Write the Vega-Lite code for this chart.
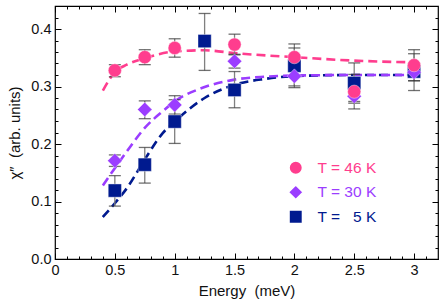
{
  "$schema": "https://vega.github.io/schema/vega-lite/v6.json",
  "width": 383,
  "height": 253,
  "autosize": {"type": "none"},
  "padding": {"left": 55, "top": 6, "right": 5, "bottom": 46},
  "config": {
    "font": "Liberation Sans",
    "view": {"stroke": "#000", "strokeWidth": 1.2},
    "axis": {"domain": false, "grid": false, "labelFont": "Liberation Sans", "titleFont": "Liberation Sans", "labelColor": "#111", "titleColor": "#111", "tickColor": "#000", "labelFontSize": 14.5, "titleFontSize": 15, "titleFontWeight": "normal"}
  },
  "datasets": {
    "pts": [
      {"T": "T = \u00a0\u00a05 K", "E": 0.5, "chi": 0.119, "lo": 0.092, "hi": 0.145},
      {"T": "T = \u00a0\u00a05 K", "E": 0.75, "chi": 0.164, "lo": 0.132, "hi": 0.194},
      {"T": "T = \u00a0\u00a05 K", "E": 1.0, "chi": 0.239, "lo": 0.201, "hi": 0.277},
      {"T": "T = \u00a0\u00a05 K", "E": 1.25, "chi": 0.379, "lo": 0.328, "hi": 0.427},
      {"T": "T = \u00a0\u00a05 K", "E": 1.5, "chi": 0.294, "lo": 0.263, "hi": 0.326},
      {"T": "T = \u00a0\u00a05 K", "E": 2.0, "chi": 0.336, "lo": 0.298, "hi": 0.374},
      {"T": "T = \u00a0\u00a05 K", "E": 2.5, "chi": 0.306, "lo": 0.271, "hi": 0.341},
      {"T": "T = \u00a0\u00a05 K", "E": 3.0, "chi": 0.326, "lo": 0.293, "hi": 0.357},
      {"T": "T = 30 K", "E": 0.5, "chi": 0.171, "lo": 0.161, "hi": 0.181},
      {"T": "T = 30 K", "E": 0.75, "chi": 0.26, "lo": 0.244, "hi": 0.275},
      {"T": "T = 30 K", "E": 1.0, "chi": 0.268, "lo": 0.252, "hi": 0.284},
      {"T": "T = 30 K", "E": 1.5, "chi": 0.344, "lo": 0.332, "hi": 0.356},
      {"T": "T = 30 K", "E": 2.0, "chi": 0.318, "lo": 0.301, "hi": 0.335},
      {"T": "T = 30 K", "E": 2.5, "chi": 0.283, "lo": 0.274, "hi": 0.292},
      {"T": "T = 30 K", "E": 3.0, "chi": 0.325, "lo": 0.31, "hi": 0.34},
      {"T": "T = 46 K", "E": 0.5, "chi": 0.328, "lo": 0.317, "hi": 0.338},
      {"T": "T = 46 K", "E": 0.75, "chi": 0.351, "lo": 0.338, "hi": 0.364},
      {"T": "T = 46 K", "E": 1.0, "chi": 0.367, "lo": 0.351, "hi": 0.383},
      {"T": "T = 46 K", "E": 1.5, "chi": 0.373, "lo": 0.355, "hi": 0.391},
      {"T": "T = 46 K", "E": 2.0, "chi": 0.351, "lo": 0.335, "hi": 0.367},
      {"T": "T = 46 K", "E": 2.5, "chi": 0.291, "lo": 0.261, "hi": 0.321},
      {"T": "T = 46 K", "E": 3.0, "chi": 0.337, "lo": 0.31, "hi": 0.364}
    ],
    "fits": [
      {"S": "5K", "E": 0.4, "chi": 0.073},
      {"S": "5K", "E": 0.5, "chi": 0.097},
      {"S": "5K", "E": 0.6, "chi": 0.123},
      {"S": "5K", "E": 0.75, "chi": 0.173},
      {"S": "5K", "E": 0.9, "chi": 0.219},
      {"S": "5K", "E": 1.0, "chi": 0.239},
      {"S": "5K", "E": 1.25, "chi": 0.28},
      {"S": "5K", "E": 1.5, "chi": 0.303},
      {"S": "5K", "E": 1.75, "chi": 0.313},
      {"S": "5K", "E": 2.0, "chi": 0.318},
      {"S": "5K", "E": 2.5, "chi": 0.32},
      {"S": "5K", "E": 3.0, "chi": 0.32},
      {"S": "30K", "E": 0.4, "chi": 0.128},
      {"S": "30K", "E": 0.5, "chi": 0.158},
      {"S": "30K", "E": 0.6, "chi": 0.187},
      {"S": "30K", "E": 0.75, "chi": 0.228},
      {"S": "30K", "E": 0.9, "chi": 0.257},
      {"S": "30K", "E": 1.0, "chi": 0.274},
      {"S": "30K", "E": 1.25, "chi": 0.299},
      {"S": "30K", "E": 1.5, "chi": 0.312},
      {"S": "30K", "E": 1.75, "chi": 0.317},
      {"S": "30K", "E": 2.0, "chi": 0.319},
      {"S": "30K", "E": 2.5, "chi": 0.32},
      {"S": "30K", "E": 3.0, "chi": 0.32},
      {"S": "46K", "E": 0.4, "chi": 0.293},
      {"S": "46K", "E": 0.5, "chi": 0.325},
      {"S": "46K", "E": 0.6, "chi": 0.338},
      {"S": "46K", "E": 0.75, "chi": 0.349},
      {"S": "46K", "E": 1.0, "chi": 0.361},
      {"S": "46K", "E": 1.25, "chi": 0.363},
      {"S": "46K", "E": 1.5, "chi": 0.358},
      {"S": "46K", "E": 2.0, "chi": 0.351},
      {"S": "46K", "E": 2.5, "chi": 0.345},
      {"S": "46K", "E": 3.0, "chi": 0.342}
    ]
  },
  "resolve": {"axis": {"x": "independent", "y": "independent"}},
  "layer": [
    {
      "data": {"name": "fits"},
      "mark": {"type": "line", "strokeDash": [9, 5], "strokeWidth": 2.6, "interpolate": "monotone"},
      "encoding": {
        "x": {"field": "E", "type": "quantitative", "scale": {"domain": [0, 3.2], "nice": false, "zero": false},
          "axis": {"orient": "bottom", "title": "Energy\u00a0\u00a0(meV)", "titlePadding": 4,
            "values": [0,0.1,0.2,0.3,0.4,0.5,0.6,0.7,0.8,0.9,1,1.1,1.2,1.3,1.4,1.5,1.6,1.7,1.8,1.9,2,2.1,2.2,2.3,2.4,2.5,2.6,2.7,2.8,2.9,3,3.1],
            "labelExpr": "abs(datum.value*2 - round(datum.value*2)) < 0.001 ? format(datum.value, '~g') : ''",
            "tickSize": {"condition": {"test": "abs(datum.value*2 - round(datum.value*2)) < 0.001", "value": -6}, "value": -3},
            "labelPadding": 10, "labelFlush": false, "labelOverlap": false}},
        "y": {"field": "chi", "type": "quantitative", "scale": {"domain": [0, 0.44], "nice": false, "zero": false},
          "axis": {"orient": "left", "title": "χ″\u00a0\u00a0(arb. units)", "titlePadding": 8,
            "values": [0,0.02,0.04,0.06,0.08,0.1,0.12,0.14,0.16,0.18,0.2,0.22,0.24,0.26,0.28,0.3,0.32,0.34,0.36,0.38,0.4,0.42],
            "labelExpr": "abs(datum.value*10 - round(datum.value*10)) < 0.001 ? format(datum.value, '.1f') : ''",
            "tickSize": {"condition": {"test": "abs(datum.value*10 - round(datum.value*10)) < 0.001", "value": -6}, "value": -3},
            "labelPadding": 10, "labelFlush": false, "labelOverlap": false}},
        "stroke": {"field": "S", "type": "nominal", "scale": {"domain": ["46K", "30K", "5K"], "range": ["#ff3d8e", "#9b3dff", "#001a8f"]}, "legend": null}
      }
    },
    {
      "data": {"name": "pts"},
      "mark": {"type": "rule", "color": "#808080", "strokeWidth": 1.3},
      "encoding": {
        "x": {"field": "E", "type": "quantitative",
          "axis": {"orient": "top", "title": null, "labels": false,
            "values": [0,0.1,0.2,0.3,0.4,0.5,0.6,0.7,0.8,0.9,1,1.1,1.2,1.3,1.4,1.5,1.6,1.7,1.8,1.9,2,2.1,2.2,2.3,2.4,2.5,2.6,2.7,2.8,2.9,3,3.1],
            "tickSize": {"condition": {"test": "abs(datum.value*2 - round(datum.value*2)) < 0.001", "value": -6}, "value": -3}}},
        "y": {"field": "lo", "type": "quantitative",
          "axis": {"orient": "right", "title": null, "labels": false,
            "values": [0,0.02,0.04,0.06,0.08,0.1,0.12,0.14,0.16,0.18,0.2,0.22,0.24,0.26,0.28,0.3,0.32,0.34,0.36,0.38,0.4,0.42],
            "tickSize": {"condition": {"test": "abs(datum.value*10 - round(datum.value*10)) < 0.001", "value": -6}, "value": -3}}},
        "y2": {"field": "hi"}
      }
    },
    {
      "data": {"name": "pts"},
      "mark": {"type": "tick", "orient": "horizontal", "color": "#333", "size": 12, "thickness": 1.3},
      "encoding": {
        "x": {"field": "E", "type": "quantitative", "axis": null},
        "y": {"field": "lo", "type": "quantitative", "axis": null}
      }
    },
    {
      "data": {"name": "pts"},
      "mark": {"type": "tick", "orient": "horizontal", "color": "#333", "size": 12, "thickness": 1.3},
      "encoding": {
        "x": {"field": "E", "type": "quantitative", "axis": null},
        "y": {"field": "hi", "type": "quantitative", "axis": null}
      }
    },
    {
      "data": {"name": "pts"},
      "mark": {"type": "point", "filled": true, "opacity": 1, "stroke": "#ffffff", "strokeOpacity": 0.5, "strokeWidth": 0.8},
      "encoding": {
        "x": {"field": "E", "type": "quantitative", "axis": null},
        "y": {"field": "chi", "type": "quantitative", "axis": null},
        "fill": {"field": "T", "type": "nominal", "scale": {"domain": ["T = 46 K", "T = 30 K", "T = \u00a0\u00a05 K"], "range": ["#ff3d8e", "#9b3dff", "#001a8f"]}, "legend": {
          "orient": "none", "legendX": 233, "legendY": 154, "title": null,
          "symbolSize": 180, "labelFontSize": 15.5, "labelOffset": 14, "rowPadding": 3.5, "padding": 0,
          "labelColor": {"expr": "indexof(datum.value, '46') >= 0 ? '#ff3d8e' : (indexof(datum.value, '30') >= 0 ? '#9b3dff' : '#001a8f')"}
        }},
        "shape": {"field": "T", "type": "nominal", "scale": {"domain": ["T = 46 K", "T = 30 K", "T = \u00a0\u00a05 K"], "range": ["circle", "M-1.1,0L0,-1.1L1.1,0L0,1.1Z", "square"]}},
        "size": {"value": 175}
      }
    }
  ]
}
